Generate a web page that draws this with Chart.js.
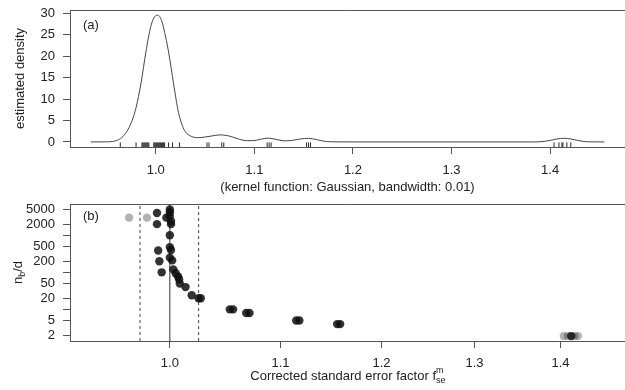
<!DOCTYPE html>
<html>
<head>
<meta charset="utf-8">
<script src="https://cdn.jsdelivr.net/npm/chart.js@4.4.0/dist/chart.umd.min.js"></script>
<style>
    html, body { margin: 0; padding: 0; background: #fff; overflow: hidden; width: 625px; height: 390px; }
    canvas { position: absolute; left: 0; }
    #densityChart { top: 0; }
    #scatterChart { top: 190px; }
</style>
</head>
<body>
<canvas id="densityChart" width="630" height="195"></canvas>
<canvas id="scatterChart" width="630" height="200"></canvas>
<script>
// (a) kernel density estimate
var densX = [0.934, 0.950, 0.956, 0.963, 0.968, 0.973, 0.977, 0.980, 0.985, 0.990, 0.995, 1.000, 1.002,
    1.006, 1.010, 1.013, 1.018, 1.023, 1.027, 1.030, 1.036, 1.043, 1.050, 1.057, 1.065, 1.072, 1.078,
    1.085, 1.092, 1.099, 1.106, 1.114, 1.122, 1.130, 1.138, 1.147, 1.155, 1.163, 1.170, 1.178, 1.200,
    1.380, 1.390, 1.400, 1.407, 1.414, 1.421, 1.428, 1.437, 1.455];
var densY = [0, 0.02, 0.1, 0.6, 1.6, 3.4, 5.6, 8.0, 13.7, 21.0, 27.0, 29.5, 29.6,
    28.3, 24.5, 21.0, 13.7, 6.9, 3.8, 2.4, 1.3, 1.0, 1.15, 1.4, 1.65, 1.5, 1.15,
    0.6, 0.3, 0.3, 0.6, 0.9, 0.6, 0.25, 0.35, 0.7, 0.85, 0.55, 0.2, 0.03, 0,
    0, 0.05, 0.35, 0.7, 0.85, 0.7, 0.35, 0.05, 0];

// rug of the individual estimates
var rugX = [0.964, 0.980, 0.986, 0.987, 0.988, 0.989, 0.990, 0.991, 0.992, 0.993,
    0.998, 0.999, 1.000, 1.001, 1.002, 1.003, 1.004, 1.005, 1.006, 1.007, 1.008, 1.009,
    1.013, 1.017, 1.024, 1.052, 1.054, 1.067, 1.069, 1.113, 1.115, 1.117,
    1.153, 1.155, 1.157, 1.404, 1.409, 1.412, 1.413, 1.417, 1.421];

// (b) n_b/d against corrected standard error factor
var fseDark = [0.989, 0.989, 0.997, 1.000, 1.000, 1.000, 1.001, 1.001, 1.000, 1.000, 1.001, 0.990,
    1.000, 1.002, 0.991, 1.003, 0.993, 1.005, 1.007, 1.008, 1.0086, 1.0136, 1.019, 1.025, 1.027,
    1.053, 1.056, 1.068, 1.071, 1.115, 1.118, 1.155, 1.158, 1.413];
var nbdDark = [4000, 2000, 3000, 5000, 4200, 3300, 2400, 2000, 1000, 480, 400, 390,
    250, 210, 200, 120, 100, 95, 78, 65, 50, 40, 24, 20, 20,
    10, 10, 8, 8, 5, 5, 4, 4, 1.9];
var fseLight = [0.9655, 0.9805, 1.404, 1.409, 1.417, 1.421];
var nbdLight = [3000, 3000, 1.9, 1.9, 1.9, 1.9];

// vertical reference lines in (b)
var refSolid = [1.0];
var refDashed = [0.9746, 1.0251];

// tick values
var densTicksX = [1.0, 1.1, 1.2, 1.3, 1.4];
var densTicksY = [0, 5, 10, 15, 20, 25, 30];
var fseTicks = [1.0, 1.1, 1.2, 1.3, 1.4];
var nbdTicks = [2, 5, 10, 20, 50, 100, 200, 500, 1000, 2000, 5000];
var nbdLabelled = [2, 5, 20, 50, 200, 500, 2000, 5000];

var FAMILY = '"Liberation Sans", Arial, sans-serif';
var TEXT = '#222';
var LINE = '#555';

// draws text made of pieces, some of them raised or lowered
function drawRich(ctx, parts, cx, cy, rot) {
    ctx.save();
    ctx.translate(cx, cy);
    ctx.rotate(rot);
    ctx.textAlign = 'left';
    ctx.textBaseline = 'alphabetic';
    ctx.fillStyle = TEXT;
    var x = 0, lastX = 0, lastW = 0, placed = [];
    parts.forEach(function (p) {
        var size = p.small ? 9 : 13;
        ctx.font = size + 'px ' + FAMILY;
        var w = ctx.measureText(p.t).width, px;
        if (p.stack) {
            px = lastX;
            x = lastX + Math.max(lastW, w);
        } else {
            px = x;
            x += w;
        }
        lastX = px;
        lastW = w;
        placed.push({ t: p.t, size: size, x: px, dy: p.dy || 0 });
    });
    placed.forEach(function (p) {
        ctx.font = p.size + 'px ' + FAMILY;
        ctx.fillText(p.t, p.x - x / 2, 4.5 + p.dy);
    });
    ctx.restore();
}

// box top edge, panel letter and axis titles
function decorPlugin(o) {
    return {
        id: 'decor',
        afterDraw: function (chart) {
            var ctx = chart.ctx, a = chart.chartArea;
            ctx.save();
            ctx.strokeStyle = LINE;
            ctx.lineWidth = 1;
            ctx.beginPath();
            ctx.moveTo(a.left, Math.round(a.top) + 0.5);
            ctx.lineTo(a.right, Math.round(a.top) + 0.5);
            ctx.stroke();
            ctx.fillStyle = TEXT;
            ctx.font = '13px ' + FAMILY;
            ctx.textAlign = 'left';
            ctx.textBaseline = 'middle';
            ctx.fillText(o.panel, o.panelX, o.panelY);
            ctx.restore();
            drawRich(ctx, o.xTitle, (a.left + a.right) / 2, o.xTitleY, 0);
            drawRich(ctx, o.yTitle, o.yTitleX, (a.top + a.bottom) / 2, -Math.PI / 2);
        }
    };
}

// fixed axis sizes so the plot boxes sit where the reference has them
function fixSize(w, h) {
    return function (s) {
        if (w) s.width = w;
        if (h) s.height = h;
        s.paddingTop = 0;
        s.paddingBottom = 0;
        s.paddingLeft = 0;
        s.paddingRight = 0;
    };
}

function axisStyle(extra) {
    var base = {
        grid: { drawOnChartArea: false, tickLength: 7, color: LINE, lineWidth: 1 },
        border: { color: LINE, width: 1 },
        ticks: { color: TEXT, font: { family: FAMILY, size: 13 }, autoSkip: false, maxRotation: 0 }
    };
    Object.keys(extra).forEach(function (k) {
        if (k === 'ticks') Object.assign(base.ticks, extra.ticks);
        else base[k] = extra[k];
    });
    return base;
}

document.addEventListener("DOMContentLoaded", function () {
    new Chart(document.getElementById('densityChart').getContext('2d'), {
        type: 'scatter',
        data: {
            datasets: [
                {
                    type: 'line',
                    data: densX.map(function (x, i) { return { x: x, y: densY[i] }; }),
                    borderColor: '#444',
                    borderWidth: 1,
                    pointRadius: 0,
                    cubicInterpolationMode: 'monotone',
                    fill: false
                },
                {
                    data: rugX.map(function (x) { return { x: x, y: -0.65 }; }),
                    pointStyle: 'line',
                    rotation: 90,
                    radius: 2.3,
                    borderColor: 'rgba(0,0,0,0.85)',
                    borderWidth: 1
                }
            ]
        },
        options: {
            responsive: false,
            animation: false,
            layout: { padding: { top: 10, right: 2, left: 0, bottom: 0 } },
            plugins: { legend: { display: false }, tooltip: { enabled: false } },
            scales: {
                x: axisStyle({
                    type: 'linear', min: 0.913, max: 1.476,
                    afterBuildTicks: function (s) { s.ticks = densTicksX.map(function (v) { return { value: v }; }); },
                    afterFit: fixSize(0, 48),
                    ticks: { padding: 9, callback: function (v) { return v.toFixed(1); } }
                }),
                y: axisStyle({
                    type: 'linear', min: -1.18, max: 30.8,
                    afterBuildTicks: function (s) { s.ticks = densTicksY.map(function (v) { return { value: v }; }); },
                    afterFit: fixSize(70, 0),
                    ticks: { padding: 8, callback: function (v) { return String(v); } }
                })
            }
        },
        plugins: [decorPlugin({
            panel: '(a)', panelX: 83, panelY: 25,
            xTitle: [{ t: '(kernel function: Gaussian, bandwidth: 0.01)' }], xTitleY: 186,
            yTitle: [{ t: 'estimated density' }], yTitleX: 19
        })]
    });

    var lineSets = [];
    refSolid.forEach(function (x) {
        lineSets.push({
            type: 'line',
            data: [{ x: x, y: 1.4 }, { x: x, y: 7000 }],
            borderColor: '#333', borderWidth: 1, pointRadius: 0
        });
    });
    refDashed.forEach(function (x) {
        lineSets.push({
            type: 'line',
            data: [{ x: x, y: 1.4 }, { x: x, y: 7000 }],
            borderColor: '#444', borderWidth: 1, borderDash: [3, 3], pointRadius: 0
        });
    });

    new Chart(document.getElementById('scatterChart').getContext('2d'), {
        type: 'scatter',
        data: {
            datasets: [
                {
                    data: fseDark.map(function (x, i) { return { x: x, y: nbdDark[i] }; }),
                    backgroundColor: 'rgba(15,15,15,0.85)',
                    borderWidth: 0,
                    radius: 4.2
                },
                {
                    data: fseLight.map(function (x, i) { return { x: x, y: nbdLight[i] }; }),
                    backgroundColor: 'rgba(0,0,0,0.3)',
                    borderWidth: 0,
                    radius: 4.2
                }
            ].concat(lineSets)
        },
        options: {
            responsive: false,
            animation: false,
            layout: { padding: { top: 14, right: 1, left: 0, bottom: 0 } },
            plugins: { legend: { display: false }, tooltip: { enabled: false } },
            scales: {
                x: axisStyle({
                    type: 'logarithmic', min: 0.9176, max: 1.481,
                    afterBuildTicks: function (s) { s.ticks = fseTicks.map(function (v) { return { value: v }; }); },
                    afterFit: fixSize(0, 49),
                    ticks: { padding: 8, callback: function (v) { return v.toFixed(1); } }
                }),
                y: axisStyle({
                    type: 'logarithmic', min: 1.4, max: 7000,
                    afterBuildTicks: function (s) { s.ticks = nbdTicks.map(function (v) { return { value: v }; }); },
                    afterFit: fixSize(70, 0),
                    ticks: {
                        padding: 8,
                        callback: function (v) { return nbdLabelled.indexOf(v) >= 0 ? String(v) : ''; }
                    }
                })
            }
        },
        plugins: [decorPlugin({
            panel: '(b)', panelX: 83, panelY: 26,
            xTitle: [
                { t: 'Corrected standard error factor f' },
                { t: 'm', small: true, dy: -7 },
                { t: 'se', small: true, dy: 3, stack: true }
            ],
            xTitleY: 185,
            yTitle: [{ t: 'n' }, { t: 'b', small: true, dy: 3 }, { t: '/d' }], yTitleX: 17
        })]
    });
});
</script>
</body>
</html>
